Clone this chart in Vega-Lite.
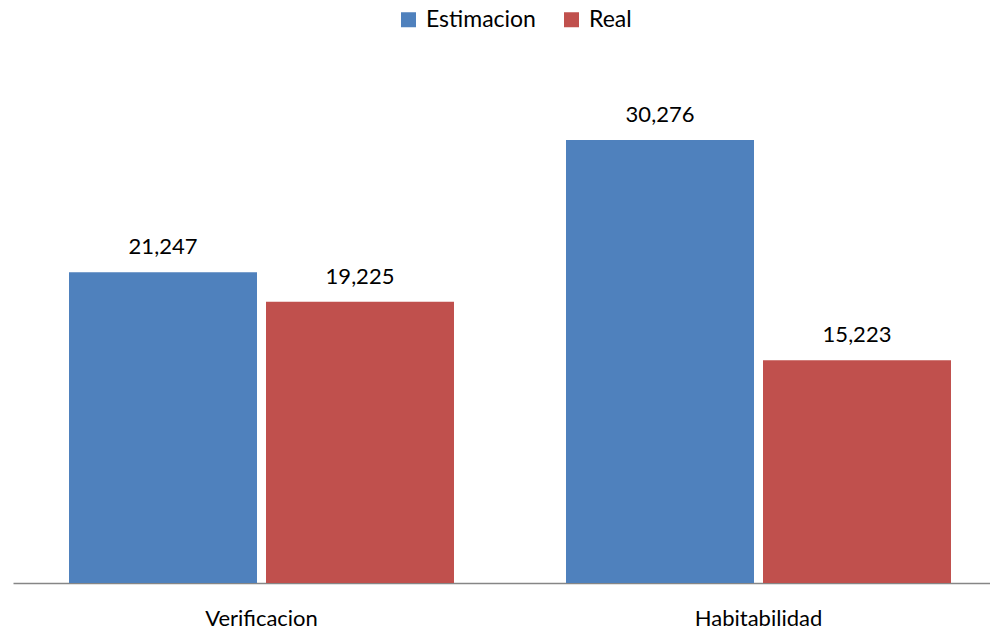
{
  "$schema": "https://vega.github.io/schema/vega-lite/v6.json",
  "autosize": {"type": "none"},
  "width": 977,
  "height": 512,
  "padding": {"left": 13, "top": 71, "right": 0, "bottom": 49},
  "background": "white",
  "config": {
    "view": {"stroke": null},
    "font": "Lato",
    "text": {"font": "Lato"}
  },
  "data": {
    "values": [
      {"categoria": "Verificacion", "serie": "Estimacion", "valor": 21247},
      {"categoria": "Verificacion", "serie": "Real", "valor": 19225},
      {"categoria": "Habitabilidad", "serie": "Estimacion", "valor": 30276},
      {"categoria": "Habitabilidad", "serie": "Real", "valor": 15223}
    ]
  },
  "encoding": {
    "x": {
      "field": "categoria",
      "type": "nominal",
      "sort": ["Verificacion", "Habitabilidad"],
      "scale": {"range": [0, 994], "paddingInner": 0, "paddingOuter": 0},
      "axis": {
        "title": null,
        "ticks": false,
        "labelAngle": 0,
        "labelFont": "Lato",
        "labelFontSize": 22,
        "labelColor": "#000000",
        "labelBaseline": "alphabetic",
        "labelPadding": 42,
        "domainColor": "#868686",
        "domainWidth": 1.5
      }
    },
    "xOffset": {
      "field": "serie",
      "type": "nominal",
      "scale": {"paddingInner": 0.0457, "paddingOuter": 0.2843}
    },
    "y": {
      "field": "valor",
      "type": "quantitative",
      "scale": {"domain": [0, 35000], "nice": false},
      "axis": null
    }
  },
  "layer": [
    {
      "mark": {"type": "bar"},
      "encoding": {
        "color": {
          "field": "serie",
          "type": "nominal",
          "scale": {"domain": ["Estimacion", "Real"], "range": ["#4F81BD", "#C0504D"]},
          "legend": {
            "title": null,
            "orient": "none",
            "direction": "horizontal",
            "legendX": 384,
            "legendY": -63,
            "symbolType": "square",
            "symbolSize": 225,
            "symbolStrokeWidth": 0,
            "labelFont": "Lato",
            "labelFontSize": 23,
            "labelColor": "#000000",
            "labelOffset": 6,
            "columnPadding": 24
          }
        }
      }
    },
    {
      "mark": {"type": "text", "baseline": "alphabetic", "dy": -18, "fontSize": 22, "color": "#000000", "font": "Lato"},
      "encoding": {
        "text": {"field": "valor", "type": "quantitative", "format": ","}
      }
    }
  ]
}
